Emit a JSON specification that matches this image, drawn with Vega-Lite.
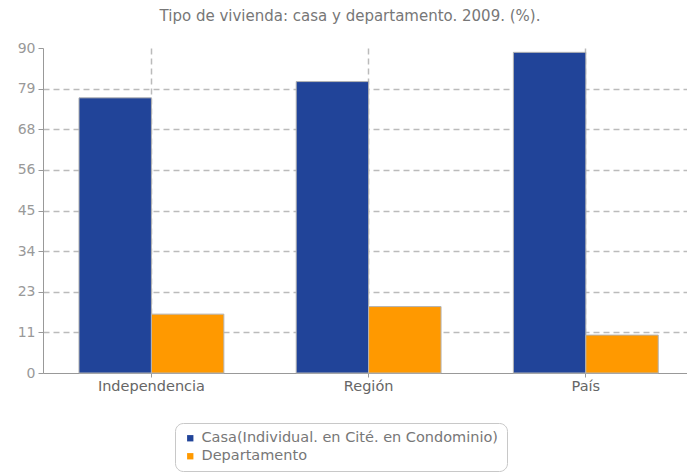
{
  "$schema": "https://vega.github.io/schema/vega-lite/v6.json",
  "autosize": "none",
  "padding": {"left": 43, "top": 48, "right": 0, "bottom": 99},
  "width": 644,
  "height": 325,
  "background": "white",
  "title": {
    "text": "Tipo de vivienda: casa y departamento. 2009. (%).",
    "font": "DejaVu Sans",
    "fontSize": 15,
    "fontWeight": "normal",
    "color": "#777777",
    "anchor": "middle",
    "dx": -15,
    "offset": 17
  },
  "data": {
    "values": [
      {"lugar": "Independencia", "tipo": "Casa(Individual. en Cité. en Condominio)", "valor": 76.2},
      {"lugar": "Independencia", "tipo": "Departamento", "valor": 16.3},
      {"lugar": "Región", "tipo": "Casa(Individual. en Cité. en Condominio)", "valor": 80.7},
      {"lugar": "Región", "tipo": "Departamento", "valor": 18.4},
      {"lugar": "País", "tipo": "Casa(Individual. en Cité. en Condominio)", "valor": 88.8},
      {"lugar": "País", "tipo": "Departamento", "valor": 10.5}
    ]
  },
  "mark": {"type": "bar", "stroke": "#b4b4b4", "strokeWidth": 1},
  "encoding": {
    "x": {
      "field": "lugar",
      "type": "nominal",
      "sort": ["Independencia", "Región", "País"],
      "title": null,
      "scale": {"paddingInner": 0.333, "paddingOuter": 0.149, "align": 0.556},
      "axis": {
        "labelAngle": 0,
        "labelFont": "DejaVu Sans",
        "labelFontSize": 14.5,
        "labelColor": "#666666",
        "labelPadding": 2,
        "domainColor": "#999999",
        "tickColor": "#999999",
        "tickSize": 4,
        "bandPosition": 0.5,
        "grid": true,
        "gridColor": "#bbbbbb",
        "gridDash": [6, 4],
        "gridWidth": 1.5
      }
    },
    "xOffset": {"field": "tipo", "type": "nominal", "sort": ["Casa(Individual. en Cité. en Condominio)", "Departamento"]},
    "y": {
      "field": "valor",
      "type": "quantitative",
      "title": null,
      "scale": {"domain": [0, 90], "nice": false},
      "axis": {
        "values": [0, 11.25, 22.5, 33.75, 45, 56.25, 67.5, 78.75, 90],
        "labelExpr": "round(datum.value)",
        "labelFont": "DejaVu Sans",
        "labelFontSize": 14,
        "labelColor": "#999999",
        "labelPadding": 3,
        "domainColor": "#999999",
        "tickColor": "#999999",
        "tickSize": 5,
        "grid": true,
        "gridColor": "#bbbbbb",
        "gridDash": [6, 4],
        "gridWidth": 1.5,
        "gridOpacity": {"condition": {"test": "datum.value >= 90 || datum.value <= 0", "value": 0}, "value": 1}
      }
    },
    "color": {
      "field": "tipo",
      "type": "nominal",
      "sort": ["Casa(Individual. en Cité. en Condominio)", "Departamento"],
      "scale": {"range": ["#214499", "#ff9900"]},
      "legend": {
        "title": null,
        "orient": "none",
        "legendX": 132,
        "legendY": 375,
        "direction": "vertical",
        "symbolType": "square",
        "symbolSize": 40,
        "symbolStrokeWidth": 0,
        "labelFont": "DejaVu Sans",
        "labelFontSize": 14.5,
        "labelColor": "#777777",
        "labelLimit": 500,
        "rowPadding": 3,
        "padding": 8,
        "strokeColor": "#c8c8c8",
        "cornerRadius": 8,
        "fillColor": "white"
      }
    }
  },
  "config": {"view": {"stroke": null}}
}
